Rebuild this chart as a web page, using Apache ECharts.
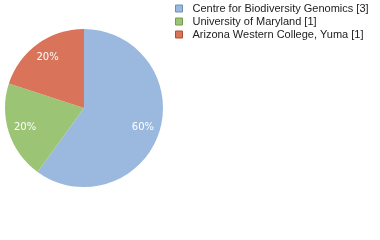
<!DOCTYPE html>
<html>
<head>
<meta charset="utf-8">
<script src="https://cdn.jsdelivr.net/npm/echarts@6/dist/echarts.min.js"></script>
<style>
  html, body { margin: 0; padding: 0; background: #fff; }
  #chart { width: 380px; height: 240px; }
</style>
</head>
<body>
<div id="chart"></div>
<script>
var names = ['Centre for Biodiversity Genomics', 'University of Maryland', 'Arizona Western College, Yuma'];
var counts = [3, 1, 1];
var colors = ['#9bb9df', '#9cc475', '#d97359'];
var borders = ['#6f8fb8', '#739c50', '#b04f37'];

var pieData = [];
var labelData = [];
var legendData = [];
for (var i = 0; i < names.length; i++) {
    pieData.push({ name: names[i], value: counts[i], itemStyle: { color: colors[i] } });
    labelData.push({ name: 'lbl' + i, value: counts[i] });
    legendData.push({
        name: names[i],
        itemStyle: { color: colors[i], borderColor: borders[i], borderWidth: 1 }
    });
}

var chart = echarts.init(document.getElementById('chart'), null, { renderer: 'canvas' });
chart.setOption({
    animation: false,
    legend: {
        orient: 'vertical',
        left: 175,
        top: 2,
        padding: 0,
        icon: 'rect',
        itemWidth: 7,
        itemHeight: 7,
        itemGap: 0,
        data: legendData,
        formatter: function (n) {
            return n + ' [' + counts[names.indexOf(n)] + ']';
        },
        textStyle: {
            fontFamily: 'Liberation Sans',
            fontSize: 11,
            color: '#222',
            lineHeight: 13,
            padding: [0, 0, 0, 5]
        }
    },
    series: [{
        type: 'pie',
        center: [84, 108],
        radius: [0, 79],
        startAngle: 90,
        clockwise: true,
        silent: true,
        label: { show: false },
        labelLine: { show: false },
        data: pieData
    }, {
        // transparent twin with a bigger radius so labels sit at ~3/4 of the real radius
        type: 'pie',
        center: [84, 108],
        radius: [0, 118],
        startAngle: 90,
        clockwise: true,
        silent: true,
        itemStyle: { color: 'rgba(0,0,0,0)' },
        label: {
            show: true,
            position: 'inside',
            formatter: '{d}%',
            color: '#fff',
            fontFamily: 'DejaVu Sans',
            fontSize: 10
        },
        labelLine: { show: false },
        data: labelData
    }]
});
</script>
</body>
</html>
